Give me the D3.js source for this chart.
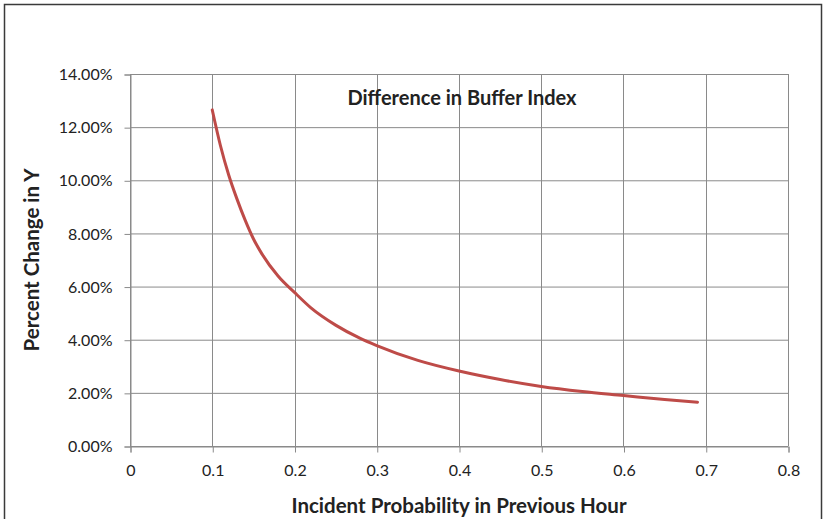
<!DOCTYPE html>
<html>
<head>
<meta charset="utf-8">
<script src="https://cdn.jsdelivr.net/npm/d3@7"></script>
<style>
  html, body { margin: 0; padding: 0; background: #fff; }
  svg { display: block; }
  text { font-family: Lato, "Open Sans", "Liberation Sans", sans-serif; fill: #222; }
</style>
</head>
<body>
<svg id="chart" width="825" height="519"></svg>
<script>
// Data
const probability = [0.10, 0.11, 0.12, 0.13, 0.14, 0.15, 0.16, 0.18, 0.20, 0.22, 0.25, 0.28, 0.30, 0.35, 0.40, 0.45, 0.50, 0.55, 0.60, 0.65, 0.69];
const percentChange = [12.65, 11.3, 10.2, 9.3, 8.5, 7.8, 7.25, 6.4, 5.78, 5.2, 4.55, 4.05, 3.78, 3.22, 2.82, 2.5, 2.24, 2.05, 1.9, 1.75, 1.65];
const xTicks = [0, 0.1, 0.2, 0.3, 0.4, 0.5, 0.6, 0.7, 0.8];
const yTicks = [0, 2, 4, 6, 8, 10, 12, 14];
const chartTitle = "Difference in Buffer Index";
const xTitle = "Incident Probability in Previous Hour";
const yTitle = "Percent Change in Y";

const svg = d3.select("#chart");
const plot = { left: 130, right: 788, top: 74, bottom: 446 };

// outer frame
svg.append("rect")
  .attr("x", 4.5).attr("y", 4.5)
  .attr("width", 817).attr("height", 530)
  .attr("fill", "none").attr("stroke", "#3a3a3a").attr("stroke-width", 1.5);

const x = d3.scaleLinear().domain([0, 0.8]).range([plot.left, plot.right]);
const y = d3.scaleLinear().domain([0, 14]).range([plot.bottom, plot.top]);

// gridlines
const grid = svg.append("g");
grid.selectAll(".hg").data(yTicks).enter().append("line")
  .attr("x1", plot.left).attr("x2", plot.right)
  .attr("y1", d => y(d) + 0.5).attr("y2", d => y(d) + 0.5)
  .attr("stroke", "#8a8a8a").attr("stroke-width", 1);
grid.selectAll(".vg").data(xTicks).enter().append("line")
  .attr("x1", d => Math.round(x(d)) + 0.5).attr("x2", d => Math.round(x(d)) + 0.5)
  .attr("y1", plot.top).attr("y2", plot.bottom)
  .attr("stroke", "#8a8a8a").attr("stroke-width", 1);

// axes
const yAxis = d3.axisLeft(y).tickValues(yTicks).tickSize(6).tickPadding(12)
  .tickFormat(d => d.toFixed(2) + "%");
const gy = svg.append("g").attr("transform", `translate(${plot.left + 0.5},0.5)`).call(yAxis);
gy.select(".domain").attr("stroke", "#8a8a8a");
gy.selectAll(".tick line").attr("stroke", "#8a8a8a");
gy.selectAll(".tick text").attr("font-size", 16).attr("fill", "#333")
  .style("font-family", "Lato, sans-serif");

const xAxis = d3.axisBottom(x).tickValues(xTicks).tickSize(6).tickPadding(12)
  .tickFormat(d => d === 0 ? "0" : d3.format(".1f")(d));
const gx = svg.append("g").attr("transform", `translate(0.5,${plot.bottom + 0.5})`).call(xAxis);
gx.select(".domain").attr("stroke", "#8a8a8a");
gx.selectAll(".tick line").attr("stroke", "#8a8a8a");
gx.selectAll(".tick text").attr("font-size", 16).attr("fill", "#333")
  .style("font-family", "Lato, sans-serif");

// series line
const line = d3.line()
  .x((d, i) => x(probability[i]))
  .y(d => y(d))
  .curve(d3.curveMonotoneX);
svg.append("path")
  .datum(percentChange)
  .attr("d", line)
  .attr("fill", "none")
  .attr("stroke", "#BE4B48")
  .attr("stroke-width", 3)
  .attr("stroke-linecap", "round");

// titles
svg.append("text")
  .attr("x", 462).attr("y", 105)
  .attr("text-anchor", "middle")
  .attr("font-size", 20).attr("font-weight", "bold")
  .text(chartTitle);

svg.append("text")
  .attr("x", 459).attr("y", 513)
  .attr("text-anchor", "middle")
  .attr("font-size", 20.5).attr("font-weight", "bold")
  .text(xTitle);

svg.append("text")
  .attr("transform", "translate(39,260) rotate(-90)")
  .attr("text-anchor", "middle")
  .attr("font-size", 20.5).attr("font-weight", "bold")
  .text(yTitle);
</script>
</body>
</html>
